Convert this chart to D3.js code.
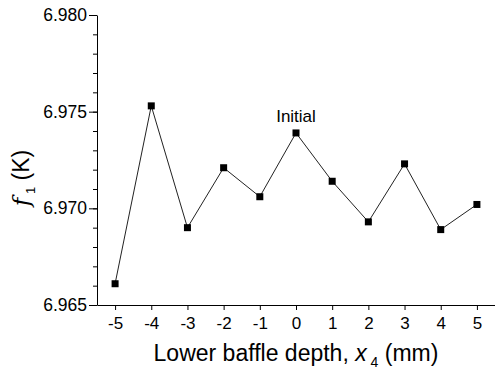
<!DOCTYPE html>
<html lang="en">
<head>
<meta charset="UTF-8">
<script src="https://d3js.org/d3.v7.min.js"></script>
<style>
    body { margin: 0; background: #fff; }
    text { font-family: "Liberation Sans", Arial, sans-serif; fill: #000; }
    .domain, .tick line { stroke: #000; }
</style>
</head>
<body>
<div id="chart"></div>
<script>
    // depth x4 (mm) and objective f1 (K)
    const depths = [-5, -4, -3, -2, -1, 0, 1, 2, 3, 4, 5];
    const f1Values = [6.9661, 6.9753, 6.9690, 6.9721, 6.9706, 6.9739, 6.9714, 6.9693, 6.9723, 6.9689, 6.9702];
    const yTicks = [6.965, 6.970, 6.975, 6.980];
    const yMinorTicks = d3.range(6.965, 6.9805, 0.001);

    const width = 495, height = 372;
    const svg = d3.select("#chart").append("svg")
        .attr("width", width)
        .attr("height", height);

    const x = d3.scaleLinear().domain([-5.5, 5.5]).range([97, 495]);
    const y = d3.scaleLinear().domain([6.965, 6.980]).range([305, 15]);

    // minor y ticks
    svg.append("g")
        .attr("transform", "translate(97,0)")
        .call(d3.axisLeft(y).tickValues(yMinorTicks).tickSize(4).tickFormat(""))
        .call(g => g.select(".domain").remove());

    // y axis
    svg.append("g")
        .attr("transform", "translate(97,0)")
        .call(d3.axisLeft(y).tickValues(yTicks).tickSize(8).tickSizeOuter(0).tickPadding(2).tickFormat(d3.format(".3f")))
        .call(g => g.selectAll("text").style("font-size", "17.5px"));

    // x axis
    svg.append("g")
        .attr("transform", "translate(0,305)")
        .call(d3.axisBottom(x).tickValues(depths).tickSize(5).tickSizeOuter(0).tickPadding(7).tickFormat(d => String(d)))
        .call(g => g.selectAll("text").style("font-size", "17px"));

    // line
    svg.append("path")
        .datum(depths.map((d, i) => [d, f1Values[i]]))
        .attr("fill", "none")
        .attr("stroke", "#222")
        .attr("stroke-width", 1)
        .attr("d", d3.line().x(d => x(d[0])).y(d => y(d[1])));

    // markers
    svg.selectAll(".pt")
        .data(depths)
        .enter()
        .append("rect")
        .attr("class", "pt")
        .attr("x", (d, i) => x(d) - 3.5)
        .attr("y", (d, i) => y(f1Values[i]) - 3.5)
        .attr("width", 7)
        .attr("height", 7)
        .attr("fill", "#000");

    // annotation
    svg.append("text")
        .attr("x", x(0))
        .attr("y", y(f1Values[5]) - 11)
        .attr("text-anchor", "middle")
        .style("font-size", "17px")
        .text("Initial");

    // x axis label
    const xl = svg.append("text")
        .attr("x", 296)
        .attr("y", 361)
        .attr("text-anchor", "middle")
        .style("font-size", "23px");
    xl.append("tspan").text("Lower baffle depth, ");
    xl.append("tspan").style("font-style", "italic").text("x");
    xl.append("tspan").attr("dy", 6).style("font-size", "14px").text(" 4");
    xl.append("tspan").attr("dy", -6).text(" (mm)");

    // y axis label
    const yl = svg.append("text")
        .attr("transform", "translate(29,178) rotate(-90)")
        .attr("text-anchor", "middle")
        .style("font-size", "23px");
    yl.append("tspan").style("font-style", "italic").style("font-family", "'DejaVu Serif', serif").text("f");
    yl.append("tspan").attr("dy", 6).style("font-size", "13px").text(" 1");
    yl.append("tspan").attr("dy", -6).text(" (K)");
</script>
</body>
</html>
